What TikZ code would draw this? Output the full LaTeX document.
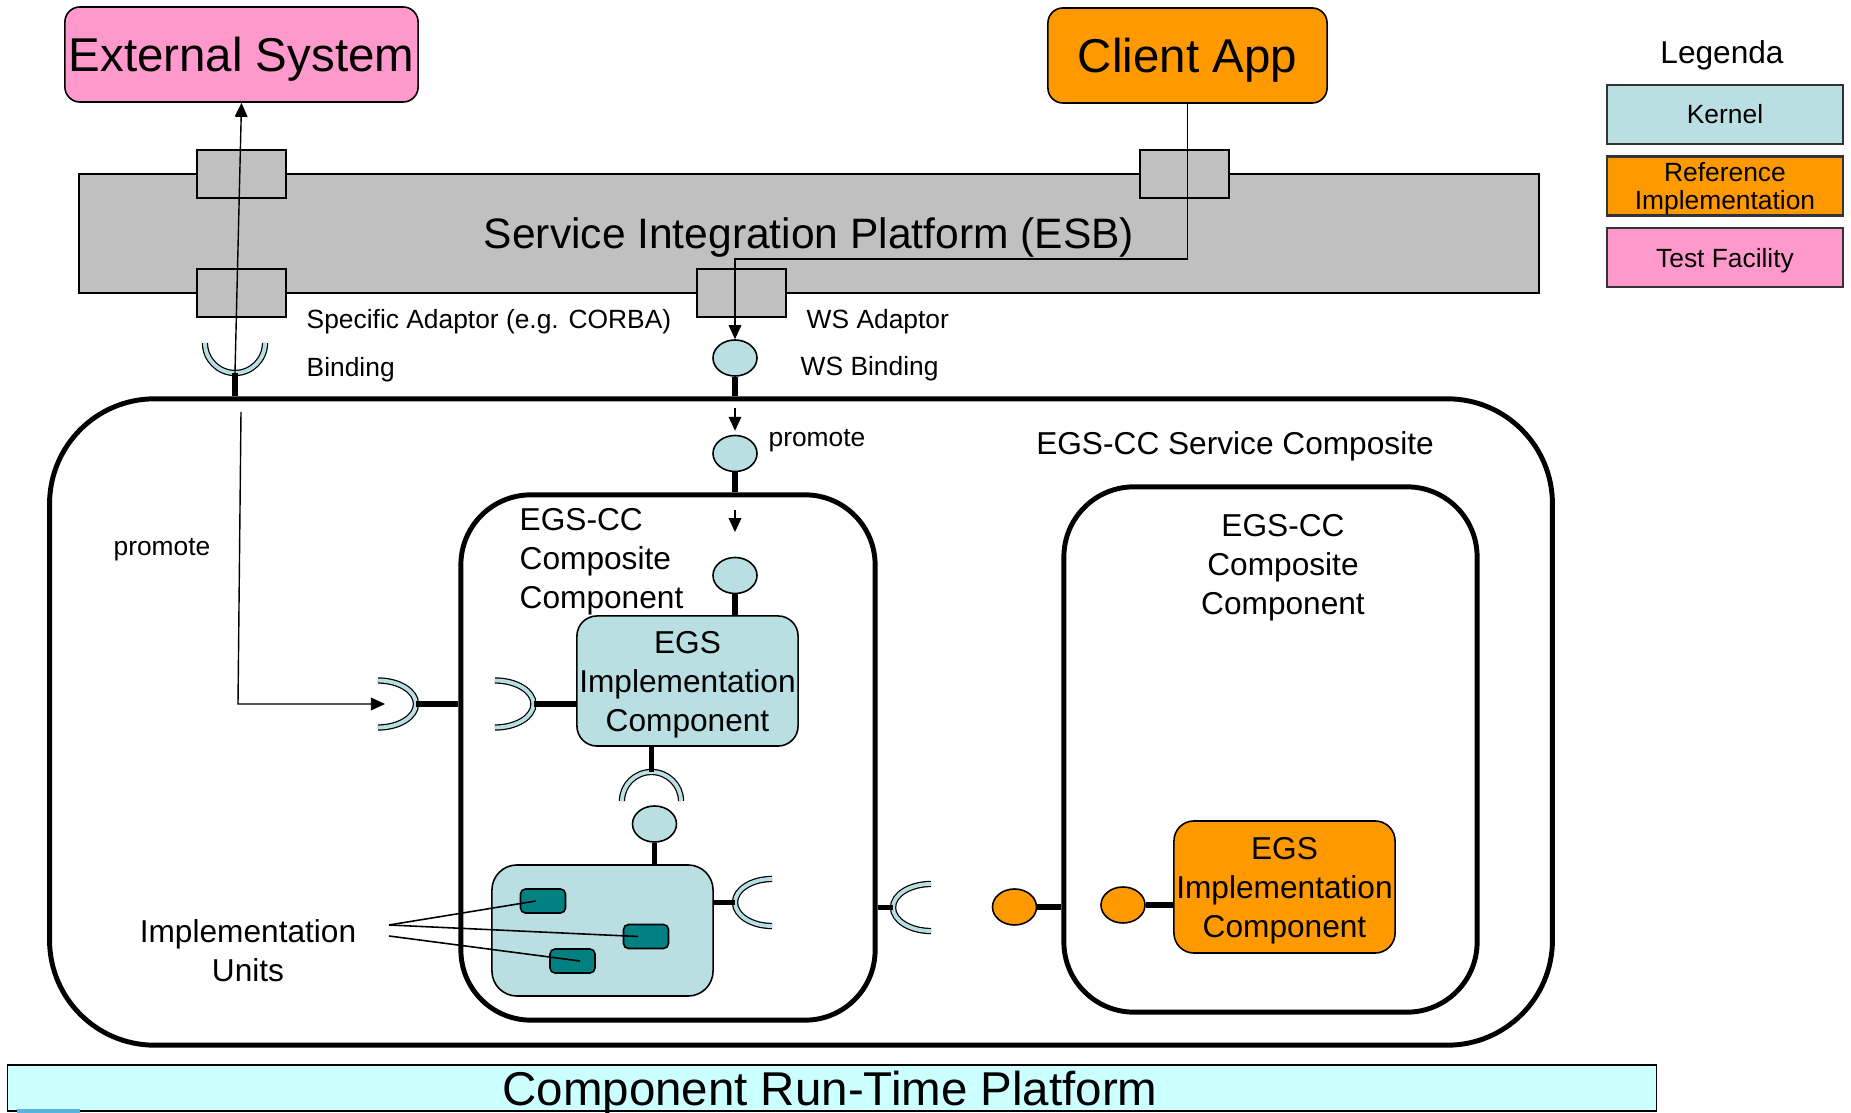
\documentclass[tikz,border=0pt]{standalone}
\usepackage{fontspec}
\setmainfont{Liberation Sans}
\usetikzlibrary{shapes.geometric,arrows.meta}

\definecolor{kernel}{RGB}{185,223,227}
\definecolor{refimpl}{RGB}{255,153,0}
\definecolor{testfac}{RGB}{255,153,204}
\definecolor{esbgray}{RGB}{192,192,192}
\definecolor{unitteal}{RGB}{0,128,128}
\definecolor{crtcyan}{RGB}{204,255,255}
\definecolor{stripblue}{RGB}{90,180,225}

\begin{document}
\begin{tikzpicture}[x=0.01cm,y=-0.01cm,
  bigtxt/.style={font=\fontsize{13.5}{16}\selectfont},
  midtxt/.style={font=\fontsize{9}{11.1}\selectfont},
  smalltxt/.style={font=\fontsize{7.5}{8}\selectfont},
  box/.style={draw,line width=0.45pt,rounded corners=0.15cm,inner sep=0pt},
  adaptor/.style={draw,line width=0.6pt,fill=esbgray,minimum width=0.89cm,minimum height=0.48cm},
  composite/.style={draw,line width=1.4pt,inner sep=0pt},
  iface/.style={ellipse,draw,line width=0.45pt,minimum width=0.44cm,minimum height=0.36cm,inner sep=0pt},
  implunit/.style={draw,line width=0.45pt,fill=unitteal,rounded corners=0.05cm,minimum width=0.45cm,minimum height=0.24cm},
  legbox/.style={draw=black!80,line width=0.6pt,minimum width=2.36cm,minimum height=0.59cm,smalltxt,align=center,inner sep=0pt},
  lbl/.style={smalltxt,anchor=west,inner sep=0pt},
  recept/.style={draw,line width=0.35pt,double=kernel,double distance=1.1pt},
  stem/.style={line width=1.7pt},
  arr/.style={-{Triangle[length=4pt,width=3.6pt]},line width=0.4pt}]

\useasboundingbox (0,0) rectangle (1851,1113);

\node[box,fill=testfac,bigtxt,text depth=0pt,minimum width=3.53cm,minimum height=0.95cm] (ext) at (241.5,54.5) {External System};
\node[box,fill=refimpl,bigtxt,text depth=0pt,minimum width=2.79cm,minimum height=0.95cm] (client) at (1187.5,55.5) {Client App};

\node[draw,line width=0.6pt,fill=esbgray,text depth=0pt,minimum width=14.6cm,minimum height=1.19cm,font=\fontsize{12.1}{14}\selectfont] (esb) at (809,233.5) {Service Integration Platform (ESB)};
\node[adaptor] (ad1) at (241.5,174) {};
\node[adaptor] (ad2) at (241.5,293) {};
\node[adaptor] (ad3) at (741.5,293) {};
\node[adaptor] (ad4) at (1184.5,174) {};

\node[lbl] (spec) at (306,321.5) {Specific Adaptor (e.g. CORBA)};
\node[lbl] (bind) at (306,369.5) {Binding};
\node[lbl] (wsad) at (806,321.5) {WS Adaptor};
\node[lbl] (wsbl) at (800,368.5) {WS Binding};

\node[composite,rounded corners=1.05cm,minimum width=15.02cm,minimum height=6.46cm] (svc) at (801,722) {};
\node[midtxt] (svcl) at (1235,446.5) {EGS-CC Service Composite};
\node[smalltxt] (prl) at (162,550) {promote};
\node[smalltxt] (prm) at (817,441) {promote};

\node[composite,rounded corners=0.7cm,minimum width=4.14cm,minimum height=5.25cm] (cc1) at (668,757.5) {};
\node[composite,rounded corners=0.7cm,minimum width=4.13cm,minimum height=5.25cm] (cc2) at (1270.5,749.5) {};
\node[midtxt,align=left,anchor=west,inner sep=0pt] (cc1l) at (519,561.5) {EGS-CC\\Composite\\Component};
\node[midtxt,align=center] (cc2l) at (1283,567.5) {EGS-CC\\Composite\\Component};

\node[box,fill=kernel,midtxt,align=center,text depth=-0.04cm,rounded corners=0.2cm,minimum width=2.21cm,minimum height=1.3cm] (egs1) at (687.5,681) {EGS\\Implementation\\Component};
\node[box,fill=refimpl,midtxt,align=center,text depth=-0.02cm,rounded corners=0.2cm,minimum width=2.21cm,minimum height=1.32cm] (egs2) at (1284.5,887) {EGS\\Implementation\\Component};
\node[box,fill=kernel,rounded corners=0.25cm,minimum width=2.21cm,minimum height=1.31cm] (units) at (602.5,930.5) {};
\node[implunit] (u1) at (543,901) {};
\node[implunit] (u2) at (646,936.5) {};
\node[implunit] (u3) at (572.5,961) {};

\node[iface,fill=kernel] (wsb) at (735,358) {};
\node[iface,fill=kernel] (prom) at (735,453.5) {};
\node[iface,fill=kernel] (inb) at (735,575.5) {};
\node[iface,fill=kernel] (mid) at (654.5,824) {};
\node[iface,fill=refimpl] (or1) at (1014.5,907) {};
\node[iface,fill=refimpl] (or2) at (1123,905) {};

\coordinate (cb) at (235,373);
\coordinate (rl) at (416,704);
\coordinate (rc) at (533.5,704);
\coordinate (ra) at (651.5,772);
\coordinate (ru) at (735,902.5);
\coordinate (rr) at (893,907.5);

\draw[recept] ([shift={(-0.3cm,0.3cm)}]cb) arc[start angle=180,end angle=360,radius=0.3cm];
\draw[recept] ([shift={(-0.38cm,0.235cm)}]rl) arc[start angle=90,end angle=-90,x radius=0.38cm,y radius=0.235cm];
\draw[recept] ([shift={(-0.385cm,0.235cm)}]rc) arc[start angle=90,end angle=-90,x radius=0.385cm,y radius=0.235cm];
\draw[recept] ([shift={(-0.295cm,-0.29cm)}]ra) arc[start angle=180,end angle=0,x radius=0.295cm,y radius=0.29cm];
\draw[recept] ([shift={(0.37cm,0.235cm)}]ru) arc[start angle=90,end angle=270,x radius=0.37cm,y radius=0.235cm];
\draw[recept] ([shift={(0.38cm,0.235cm)}]rr) arc[start angle=90,end angle=270,x radius=0.38cm,y radius=0.235cm];

\draw[stem] (cb) -- (cb |- svc.north);
\draw[stem] (wsb) -- (wsb |- svc.north);
\draw[stem] (prom) -- (prom |- cc1.north);
\draw[stem] (inb) -- (inb |- egs1.north);
\draw[stem] (rl) -- (rl -| cc1.west);
\draw[stem] (rc) -- (rc -| egs1.west);
\draw[stem] (ra) -- (ra |- egs1.south);
\draw[stem] (mid) -- (mid |- units.north);
\draw[stem] (ru) -- (ru -| units.east);
\draw[stem] (rr) -- (rr -| cc1.east);
\draw[stem] (or1) -- (or1 -| cc2.west);
\draw[stem] (or2) -- (or2 -| egs2.west);

\draw[arr] (cb) -- (ext.south);
\coordinate (pr1) at (241,412);
\coordinate (pr2) at (238,704);
\coordinate (pr3) at (385,704);
\draw[arr] (pr1) -- (pr2) -- (pr3);
\coordinate (bend) at (735,259);
\draw[arr] (client) |- (bend) -- (wsb);
\coordinate (pa) at (735,408);
\draw[arr,shorten >=1.1pt] (pa) -- (prom);
\coordinate (pb) at (735,510);
\draw[arr,shorten >=7pt] (pb) -- (inb);

\node[midtxt,align=center] (iu) at (248,951) {Implementation\\Units};
\coordinate (iu1) at (389,925);
\coordinate (iu2) at (389,936);
\draw[line width=0.45pt] (iu1) -- ([xshift=-0.07cm]u1.center);
\draw[line width=0.45pt] (iu1) -- ([xshift=-0.08cm]u2.center);
\draw[line width=0.45pt] (iu2) -- ([xshift=0.075cm]u3.center);

\node[midtxt] (leg) at (1722,55.5) {Legenda};
\node[legbox,fill=kernel] (lk) at (1725,114.5) {Kernel};
\node[legbox,fill=refimpl,text depth=0pt] (lr) at (1725,186) {Reference\\Implementation};
\node[legbox,fill=testfac,text depth=0pt] (lt) at (1725,257.5) {Test Facility};

\node[draw,line width=0.5pt,fill=crtcyan,minimum width=16.48cm,minimum height=0.46cm,inner sep=0pt] (crt) at (832,1088) {};
\node[bigtxt,anchor=base,inner sep=0pt] (crtl) at (830,1105) {Component Run-Time Platform};
\fill[stripblue] (17,1109) rectangle (80,1113);
\end{tikzpicture}
\end{document}
